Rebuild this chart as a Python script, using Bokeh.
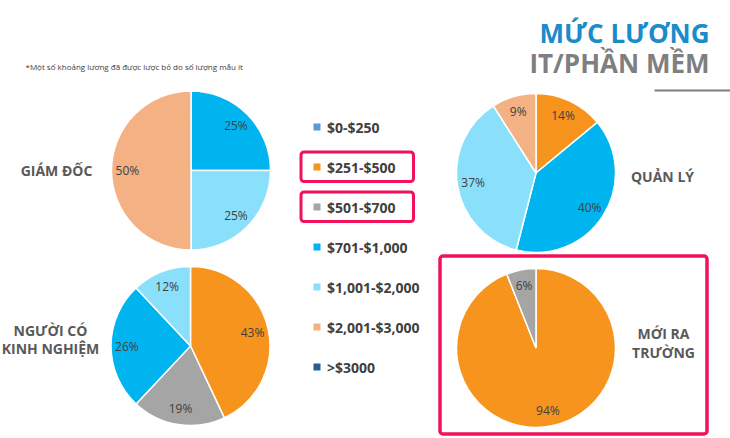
import math
from bokeh.plotting import figure
from bokeh.models import Range1d, BoxAnnotation
from bokeh.core.properties import value
from bokeh.embed import file_html
from bokeh.resources import INLINE

# ---------------- data ----------------
bins = ["$0-$250", "$251-$500", "$501-$700", "$701-$1,000",
        "$1,001-$2,000", "$2,001-$3,000", ">$3000"]
bin_colors = ["#5B9BD5", "#F7941D", "#A5A5A5", "#00B4F0",
              "#8ADFFB", "#F4B183", "#255E91"]

groups = ["GIÁM ĐỐC", "QUẢN LÝ", "NGƯỜI CÓ\nKINH NGHIỆM", "MỚI RA\nTRƯỜNG"]
giam_doc = [0, 0, 0, 25, 25, 50, 0]
quan_ly = [0, 14, 0, 40, 37, 9, 0]
nguoi_co_kinh_nghiem = [0, 43, 19, 26, 12, 0, 0]
moi_ra_truong = [0, 94, 6, 0, 0, 0, 0]
series = [giam_doc, quan_ly, nguoi_co_kinh_nghiem, moi_ra_truong]

title1 = "MỨC LƯƠNG"
title2 = "IT/PHẦN MỀM"
note = "*Một số khoảng lương đã được lược bỏ do số lượng mẫu ít"
highlight_bins = ["$251-$500", "$501-$700"]
highlight_group = "MỚI RA\nTRƯỜNG"

# ---------------- layout (page coordinates, y measured up) ----------------
H = 438
W = 730
FONT = value("Open Sans")
centers = [(190.5, H - 170), (535.5, H - 172.5), (190, H - 345.5), (535.5, H - 347.5)]
R = 79.5
label_pos = [(56, H - 170), (662, H - 175.5), (50, H - 339), (663, H - 342.5)]

p = figure(width=W, height=H, x_range=Range1d(0, W), y_range=Range1d(0, H),
           output_backend="svg", toolbar_location=None, min_border=0)
p.axis.visible = False
p.grid.visible = False
p.outline_line_color = None
p.background_fill_color = "white"

for (cx, cy), vals, g, (lx, ly) in zip(centers, series, groups, label_pos):
    total = float(sum(vals))
    cum = 0.0
    xs, ys, ss, es, cs = [], [], [], [], []
    tx, ty, tt = [], [], []
    for v, c in zip(vals, bin_colors):
        if v <= 0:
            continue
        a0 = math.pi / 2 - 2 * math.pi * cum / total
        cum += v
        a1 = math.pi / 2 - 2 * math.pi * cum / total
        xs.append(cx); ys.append(cy); ss.append(a0); es.append(a1); cs.append(c)
        mid = (a0 + a1) / 2
        tx.append(cx + 0.8 * R * math.cos(mid))
        ty.append(cy + 0.8 * R * math.sin(mid))
        tt.append(f"{v}%")
    p.wedge(x=xs, y=ys, radius=R, start_angle=ss, end_angle=es, direction="clock",
            fill_color=cs, line_color="white", line_width=1.5)
    p.text(x=tx, y=ty, text=tt, text_font=FONT, text_font_size="12px",
           text_color="#404040", text_align="center", text_baseline="middle")
    lines = g.split("\n")
    n = len(lines)
    for i, ln in enumerate(lines):
        p.text(x=[lx], y=[ly - (i - (n - 1) / 2) * 18.5], text=[ln], text_font=FONT,
               text_font_size="14px", text_font_style="bold", text_color="#595959",
               text_align="center", text_baseline="middle")

# legend
leg_x = 316.5
leg_y = [H - (126.5 + 40 * i) for i in range(len(bins))]
p.scatter(x=[leg_x] * len(bins), y=leg_y, marker="square", size=7,
          fill_color=bin_colors, line_color=None)
p.text(x=[leg_x + 10] * len(bins), y=leg_y, text=bins, text_font=FONT,
       text_font_size="14px", text_font_style="bold", text_color="#404040",
       text_align="left", text_baseline="middle")

# highlight boxes
RED = "#F2125A"
for b in highlight_bins:
    yy = leg_y[bins.index(b)]
    p.add_layout(BoxAnnotation(left=300.5, right=413, bottom=yy - 14.5, top=yy + 15,
                               fill_alpha=0, line_color=RED, line_alpha=1, line_width=3,
                               border_radius=3))
gi = groups.index(highlight_group)
gx, gy = centers[gi]
p.add_layout(BoxAnnotation(left=gx - 96, right=gx + 171, bottom=gy - 86, top=gy + 92,
                           fill_alpha=0, line_color=RED, line_alpha=1, line_width=3.5,
                           border_radius=3))

# titles
p.text(x=[709], y=[H - 32], text=[title1], text_font=FONT, text_font_size="26px",
       text_font_style="bold", text_color="#1B8BC9", text_align="right",
       text_baseline="middle")
p.text(x=[709], y=[H - 62], text=[title2], text_font=FONT, text_font_size="26px",
       text_font_style="bold", text_color="#7F7F7F", text_align="right",
       text_baseline="middle")
p.segment(x0=[654], y0=[H - 90], x1=[730], y1=[H - 90], line_color="#7F7F7F", line_width=2)
p.text(x=[25], y=[H - 65.5], text=[note], text_font=FONT, text_font_size="8px",
       text_color="#404040", text_align="left", text_baseline="middle")

open("out.html", "w").write(file_html(p, INLINE))
